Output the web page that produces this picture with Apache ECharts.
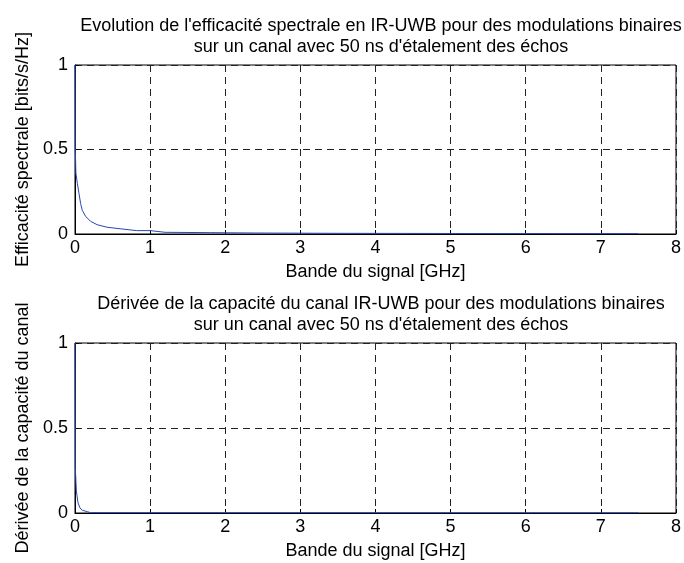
<!DOCTYPE html>
<html>
<head>
<meta charset="utf-8">
<script src="https://cdn.jsdelivr.net/npm/echarts@6/dist/echarts.min.js"></script>
<style>
  html, body { margin: 0; padding: 0; background: #fff; }
  #chart { width: 684px; height: 563px; }
</style>
</head>
<body>
<div id="chart"></div>
<script>
// Spectral efficiency versus signal bandwidth (GHz)
const bandEff = [0, 0.003, 0.009, 0.012, 0.018, 0.031, 0.053, 0.075, 0.097, 0.141, 0.207, 0.295, 0.427, 0.60, 0.82, 1.0, 1.02, 1.2, 1.8, 2.4, 3.5, 5.0, 7.5];
const efficacite = [1, 0.52, 0.52, 0.36, 0.35, 0.30, 0.24, 0.18, 0.14, 0.105, 0.075, 0.055, 0.04, 0.031, 0.02, 0.02, 0.012, 0.01, 0.008, 0.006, 0.004, 0.003, 0.002];

// Derivative of the channel capacity versus bandwidth (GHz)
const bandDer = [0, 0.004, 0.016, 0.018, 0.04, 0.066, 0.097, 0.163, 0.207, 7.5];
const derivee = [1, 0.27, 0.27, 0.13, 0.06, 0.03, 0.016, 0.008, 0.002, 0.001];

const xTicks = [0, 1, 2, 3, 4, 5, 6, 7, 8];
const yTicks = [0, 0.5, 1];

const titres = [
  "Evolution de l'efficacité spectrale en IR-UWB pour des modulations binaires\nsur un canal avec 50 ns d'étalement des échos",
  "Dérivée de la capacité du canal IR-UWB pour des modulations binaires\nsur un canal avec 50 ns d'étalement des échos"
];
const yNoms = ["Efficacité spectrale [bits/s/Hz]", "Dérivée de la capacité du canal"];
const xNom = "Bande du signal [GHz]";

const FONT = "Liberation Sans, Arial, sans-serif";
const FS = 18;
const lineColor = '#2846b4';
const gridLine = { show: true, lineStyle: { color: '#222', type: [7, 5], width: 1 } };

function xAxis(i) {
  return {
    gridIndex: i, type: 'value', min: xTicks[0], max: xTicks[xTicks.length - 1], interval: 1,
    name: xNom, nameLocation: 'middle', nameGap: 29,
    nameTextStyle: { fontFamily: FONT, fontSize: FS, color: '#000' },
    axisLine: { show: true, lineStyle: { color: '#000', width: 1 } },
    axisTick: { show: true, inside: true, length: 4, lineStyle: { color: '#000' } },
    axisLabel: { fontFamily: FONT, fontSize: FS, color: '#000', margin: 5 },
    splitLine: gridLine
  };
}
function yAxis(i) {
  return {
    gridIndex: i, type: 'value', min: 0, max: 1, interval: 0.5,
    name: yNoms[i], nameLocation: 'middle', nameGap: 42,
    nameTextStyle: { fontFamily: FONT, fontSize: FS, color: '#000' },
    axisLine: { show: true, lineStyle: { color: '#000', width: 1 } },
    axisTick: { show: true, inside: true, length: 4, lineStyle: { color: '#000' } },
    axisLabel: { fontFamily: FONT, fontSize: FS, color: '#000', margin: 7,
      formatter: v => (yTicks.indexOf(v) >= 0 ? String(v) : '') },
    splitLine: gridLine
  };
}

const chart = echarts.init(document.getElementById('chart'), null, { renderer: 'canvas' });
chart.setOption({
  backgroundColor: '#fff',
  animation: false,
  title: [
    { text: titres[0], left: 376, top: 11, textAlign: 'center',
      textStyle: { fontFamily: FONT, fontSize: FS, fontWeight: 'normal', color: '#000', lineHeight: 21 } },
    { text: titres[1], left: 376, top: 289, textAlign: 'center',
      textStyle: { fontFamily: FONT, fontSize: FS, fontWeight: 'normal', color: '#000', lineHeight: 21 } }
  ],
  grid: [
    { left: 75, width: 602, top: 65, height: 169, show: true, borderColor: '#000', borderWidth: 1 },
    { left: 75, width: 602, top: 343, height: 170, show: true, borderColor: '#000', borderWidth: 1 }
  ],
  xAxis: [xAxis(0), xAxis(1)],
  yAxis: [yAxis(0), yAxis(1)],
  series: [
    { type: 'line', xAxisIndex: 0, yAxisIndex: 0, showSymbol: false, symbol: 'none',
      lineStyle: { color: lineColor, width: 1 },
      data: bandEff.map((b, k) => [b, efficacite[k]]) },
    { type: 'line', xAxisIndex: 1, yAxisIndex: 1, showSymbol: false, symbol: 'none',
      lineStyle: { color: lineColor, width: 1 },
      data: bandDer.map((b, k) => [b, derivee[k]]) }
  ]
});
</script>
</body>
</html>
